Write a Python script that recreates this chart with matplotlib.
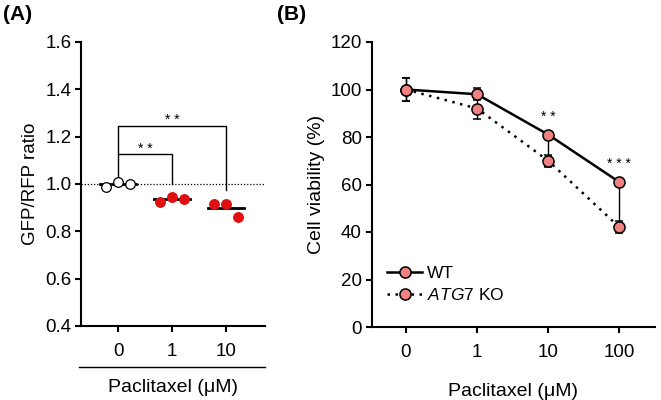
import matplotlib
matplotlib.use('Agg')
import matplotlib.pyplot as plt
from matplotlib.lines import Line2D
import numpy as np

plt.rcParams['font.family'] = ['Liberation Sans', 'DejaVu Sans']
plt.rcParams['mathtext.fontset'] = 'custom'
plt.rcParams['mathtext.it'] = 'Liberation Sans:italic'
plt.rcParams['mathtext.rm'] = 'Liberation Sans'

# Panel A data
a_doses = ['0', '1', '10']
a_vals = [[0.986, 1.01, 1.0], [0.925, 0.945, 0.937], [0.915, 0.915, 0.86]]
a_means = [1.0, 0.937, 0.897]
a_open = [True, False, False]

# Panel B data
b_doses = ['0', '1', '10', '100']
wt_mean = [100, 98, 81, 61]
wt_err = [5, 2.5, 1, 1]
ko_mean = [100, 92, 70, 42]
ko_err = [5, 4.5, 2.5, 2.5]
b_sig = {2: '* *', 3: '* * *'}

RED = '#E01010'
SALMON = '#F28282'

fig = plt.figure(figsize=(6.61, 4.0), dpi=100)

# ---------------- Panel A ----------------
axA = fig.add_axes([81/661, 1-326/400, (265-81)/661, (326-42)/400])
offs = [-0.22, 0, 0.22]
for i, vals in enumerate(a_vals):
    fc = 'white' if a_open[i] else RED
    axA.scatter([i + o for o in offs], vals, s=48, facecolor=fc,
                edgecolor='black' if a_open[i] else RED, linewidth=0.9, zorder=4)
    axA.plot([i - 0.34, i + 0.34], [a_means[i]] * 2, color='black', lw=2, zorder=3)
axA.axhline(1.0, color='black', lw=0.9, ls=(0, (1, 1.5)), zorder=1)

# significance brackets
axA.plot([0, 0, 1, 1], [1.02, 1.127, 1.127, 1.0], color='black', lw=1)
axA.text(0.5, 1.15, '* *', ha='center', va='center', fontsize=10)
axA.plot([0, 0, 2, 2], [1.127, 1.245, 1.245, 0.975], color='black', lw=1)
axA.text(1.0, 1.27, '* *', ha='center', va='center', fontsize=10)

axA.set_xlim(-0.685, 2.72)
axA.set_ylim(0.4, 1.6)
axA.set_yticks(np.arange(0.4, 1.61, 0.2))
axA.set_yticklabels([f'{v:.1f}' for v in np.arange(0.4, 1.61, 0.2)])
axA.set_xticks(range(len(a_doses)))
axA.set_xticklabels(a_doses)
axA.set_ylabel('GFP/RFP ratio', fontsize=13.5, labelpad=4)
axA.text(0.5, -0.215, 'Paclitaxel (\u03bcM)', transform=axA.transAxes,
         ha='center', va='center', fontsize=14)
fig.add_artist(Line2D([79/661, 265/661], [1-367/400] * 2, color='black', lw=1))

# ---------------- Panel B ----------------
axB = fig.add_axes([371.7/661, 1-327/400, (655-371.7)/661, (327-42)/400])
x = np.arange(len(b_doses))
for j in (2, 3):
    axB.plot([x[j], x[j]], [wt_mean[j], ko_mean[j]], color='black', lw=1, zorder=1)
axB.errorbar(x, ko_mean, yerr=ko_err, color='black', ls=(0, (1, 2.2)), lw=1.8,
             marker='o', ms=8, mfc=SALMON, mec='black', mew=1.1,
             capsize=3, elinewidth=1, ecolor='black', zorder=2)
axB.errorbar(x, wt_mean, yerr=wt_err, color='black', ls='-', lw=1.8,
             marker='o', ms=8, mfc=SALMON, mec='black', mew=1.1,
             capsize=3, elinewidth=1, ecolor='black', zorder=3)
for j, s in b_sig.items():
    axB.text(x[j], wt_mean[j] + 7.5, s, ha='center', va='center', fontsize=10)

axB.set_xlim(-0.48, 3.5)
axB.set_ylim(0, 120)
axB.set_yticks(range(0, 121, 20))
axB.set_xticks(x)
axB.set_xticklabels(b_doses)
axB.set_ylabel('Cell viability (%)', fontsize=14, labelpad=4)
axB.set_xlabel('Paclitaxel (\u03bcM)', fontsize=14, labelpad=16)

h_wt = Line2D([], [], color='black', ls='-', lw=1.8, marker='o', ms=8,
              mfc=SALMON, mec='black', mew=1.1)
h_ko = Line2D([], [], color='black', ls=(0, (1, 2.2)), lw=1.8, marker='o', ms=8,
              mfc=SALMON, mec='black', mew=1.1)
axB.legend([h_wt, h_ko], ['WT', '$\\mathit{ATG7}$ KO'], loc='lower left',
           bbox_to_anchor=(0.0, 0.03), frameon=False, fontsize=12.5,
           handlelength=2.0, handletextpad=0.3, labelspacing=0.35)

for ax in (axA, axB):
    for side in ('top', 'right'):
        ax.spines[side].set_visible(False)
    for side in ('left', 'bottom'):
        ax.spines[side].set_linewidth(1.5)
    ax.tick_params(direction='out', length=4, width=1.5, labelsize=13.5, pad=3)
    ax.tick_params(axis='x', pad=8)

fig.text(3/661, 1-15/400, '(A)', fontsize=15, fontweight='bold', va='center')
fig.text(277/661, 1-15/400, '(B)', fontsize=15, fontweight='bold', va='center')

fig.savefig('out.png', dpi=100)
